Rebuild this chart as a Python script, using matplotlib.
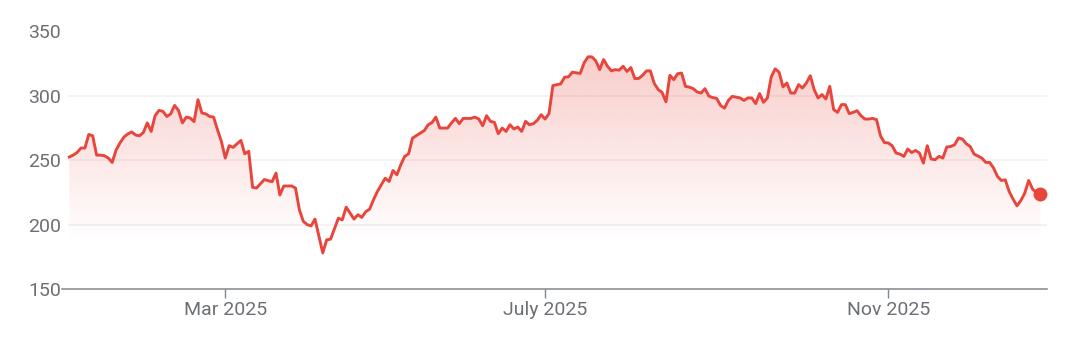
# ==========================================
# PRICE CHART 2025 (line + fading area)
# ==========================================

import numpy as np
import matplotlib.pyplot as plt
from matplotlib.colors import to_rgb

# ==========================================
# DATA
# ==========================================

# trading session number of each point
session = [
    0, 1, 2, 3, 4, 5, 6, 7, 8, 9, 10, 11, 12, 13, 14, 15, 16, 17, 18, 19,
    20, 21, 22, 23, 24, 25, 26, 27, 28, 29, 30, 31, 32, 33, 34, 35, 36, 37, 38, 39,
    40, 41, 42, 44, 45, 46, 47, 48, 50, 52, 53, 54, 55, 57, 58, 59, 60, 61, 62, 63,
    65, 66, 67, 69, 70, 71, 72, 73, 74, 75, 76, 77, 78, 79, 80, 81, 82, 83, 84, 85,
    86, 87, 88, 90, 91, 92, 93, 94, 95, 97, 98, 99, 100, 101, 103, 104, 105, 106, 107, 108,
    109, 110, 111, 112, 113, 114, 115, 116, 117, 118, 119, 120, 121, 122, 123, 124, 126, 127, 128, 129,
    131, 132, 133, 134, 135, 136, 137, 138, 139, 140, 141, 142, 143, 144, 145, 146, 147, 148, 149, 150,
    151, 152, 153, 154, 155, 156, 157, 158, 159, 160, 161, 162, 163, 164, 165, 166, 167, 168, 169, 170,
    172, 173, 174, 175, 176, 177, 178, 179, 180, 181, 182, 183, 184, 185, 186, 187, 188, 189, 190, 191,
    192, 193, 194, 195, 196, 197, 198, 199, 200, 201, 202, 203, 204, 205, 206, 207, 208, 209, 210, 211,
    212, 213, 214, 215, 216, 217, 218, 219, 220, 221, 222, 223, 224, 225, 226, 227, 228, 229, 230, 231,
    232, 234, 235, 236, 237, 238, 239, 240, 241, 242, 243, 244, 245, 246, 247, 248, 249,
]

price = [
    252.5, 254, 256, 259.5, 259.5, 270, 269, 254, 254, 253.5, 251.7, 248.3, 258, 263.4, 268, 270.4, 272, 269.6, 269, 271.6,
    279, 272.4, 284.6, 288.7, 288, 284, 286, 292.6, 288.7, 279, 283.5, 282.8, 280, 297, 286.7, 286, 284, 283.5, 273.7, 264.6,
    251.7, 261.3, 260, 265.4, 255, 257, 229, 228.4, 235, 233.3, 240, 223, 230, 230, 228.4, 211.5, 202.5, 200, 199, 204.3,
    178, 188.2, 188.7, 205, 203.7, 213.6, 209, 204.3, 207.7, 205.6, 210, 212, 219.3, 225.7, 231, 236, 233.5, 242, 238.7, 246.5,
    253, 255, 267.2, 271, 273, 277.5, 279.3, 283.5, 275, 275, 279, 282.5, 278.4, 282.5, 282.5, 283.5, 282, 276.8, 284.6, 280.2,
    279.4, 270.6, 275, 272.4, 277.6, 274.3, 275.8, 272.4, 280.2, 277.6, 278.4, 281, 285.4, 282, 286.2, 308, 309.3, 314.5, 314.8, 318.4,
    317.4, 325.6, 330.3, 330.3, 327.2, 320.4, 328.2, 323, 319.4, 320.4, 320, 323, 319, 322, 313.5, 313.5, 316, 319.4, 319.4, 309.6,
    305, 302.6, 295.4, 316, 312.6, 317.2, 317.7, 307.4, 306.8, 305.6, 303, 302.2, 305.6, 299.8, 298.7, 298, 292.5, 290.5, 296.5, 299.6,
    298.4, 296.5, 298.4, 298.4, 294, 301.8, 295, 298.4, 314.8, 321, 318.4, 307, 310, 302.2, 302.2, 308.7, 306.1, 310, 315.7, 304.8,
    298.4, 301, 297.6, 307.4, 289.3, 287.2, 293.2, 293.2, 286.2, 287.2, 288.5, 284.6, 282, 282, 282.5, 281.5, 269, 263.8, 263.4, 261.3,
    255.6, 254.8, 253, 258.7, 256, 257.6, 255.6, 247.8, 261.3, 251, 250.4, 253, 251.7, 260.3, 260.7, 262, 267.3, 266.5, 262.8, 260.7,
    254.8, 251.7, 248.3, 248.3, 244, 237.4, 234.3, 234.8, 225.7, 219.8, 214.6, 218.8, 224.5, 234.3, 227.6, 225, 223.7,
]

# first session of each labelled month
tick_sessions = [40, 122, 210]
tick_labels = ["Mar 2025", "July 2025", "Nov 2025"]

y_ticks = [150, 200, 250, 300, 350]

# ==========================================
# STYLE
# ==========================================

plt.rcParams["font.family"] = ["Roboto", "DejaVu Sans"]

RED = "#e8453c"
GREY_TXT = "#6c7075"
GREY_AXIS = "#80868b"
GRID = "#f0f0f0"

x = np.array(session, dtype=float)
y = np.array(price, dtype=float)

fig = plt.figure(figsize=(10.72, 3.46), dpi=100)
ax = fig.add_axes([62 / 1072, 57 / 346, 985 / 1072, 257.5 / 346])

x_left = -1.87
x_right = 250.7
ax.set_xlim(x_left, x_right)
ax.set_ylim(150, 350)

# ==========================================
# GRID
# ==========================================

for v in y_ticks[1:]:
    ax.hlines(v, -0.3, x_right, color=GRID, lw=1.1, zorder=0)

# ==========================================
# GRADIENT FILL UNDER THE LINE
# ==========================================

fill = ax.fill_between(x, y, 150, color="none", lw=0)

yy = np.linspace(150, 350, 400)
alpha = np.clip(0.27 * (yy - 187) / (330 - 187), 0, 0.3)
img = np.zeros((len(yy), 2, 4))
img[:, :, :3] = to_rgb(RED)
img[:, :, 3] = alpha[:, None]

grad = ax.imshow(img, extent=[x[0], x[-1], 150, 350], origin="lower",
                 aspect="auto", interpolation="bilinear", zorder=1)
grad.set_clip_path(fill.get_paths()[0], transform=ax.transData)

# ==========================================
# LINE + LAST POINT
# ==========================================

ax.plot(x, y, color=RED, lw=2.1, solid_joinstyle="round", zorder=3)
ax.plot(x[-1], y[-1], "o", color=RED, markersize=9, zorder=4, clip_on=False)

# ==========================================
# AXES
# ==========================================

for side in ["top", "right", "left"]:
    ax.spines[side].set_visible(False)
ax.spines["bottom"].set_color(GREY_AXIS)
ax.spines["bottom"].set_linewidth(1.1)

ax.set_yticks(y_ticks)
ax.set_yticklabels([str(v) for v in y_ticks])
ax.tick_params(axis="y", length=0, pad=0.5, labelsize=14, labelcolor=GREY_TXT)

ax.set_xticks(tick_sessions)
ax.set_xticklabels(tick_labels)
ax.tick_params(axis="x", length=6.5, width=1.0, color=GREY_AXIS, pad=2,
               labelsize=14, labelcolor=GREY_TXT)

fig.savefig("out.png", dpi=100)
